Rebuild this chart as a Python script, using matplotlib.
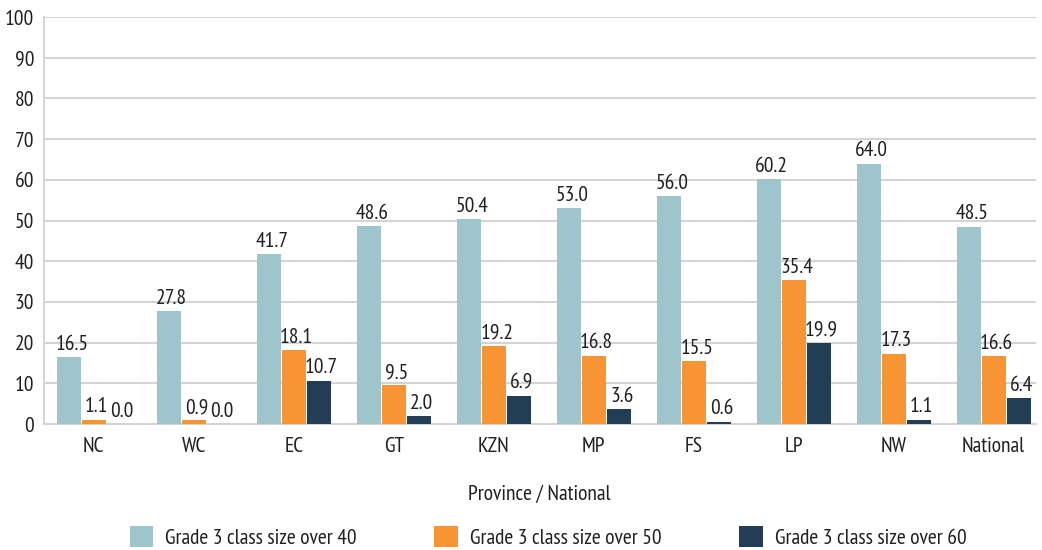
import numpy as np
import matplotlib.pyplot as plt
from matplotlib import font_manager
from matplotlib.patches import Patch

# pick a narrow sans for the labels
installed = {f.name for f in font_manager.fontManager.ttflist}
for fam in ['PT Sans Narrow', 'Fira Sans Condensed', 'Asap Condensed',
            'Archivo Narrow', 'Barlow Semi Condensed']:
    if fam in installed:
        break
else:
    fam = 'DejaVu Sans'
plt.rcParams['font.family'] = [fam, 'DejaVu Sans']

# Provinces and the national figure
regions = ['NC', 'WC', 'EC', 'GT', 'KZN', 'MP', 'FS', 'LP', 'NW', 'National']

# Percent of Grade 3 classes above each size
over_40 = [16.5, 27.8, 41.7, 48.6, 50.4, 53.0, 56.0, 60.2, 64.0, 48.5]
over_50 = [1.1, 0.9, 18.1, 9.5, 19.2, 16.8, 15.5, 35.4, 17.3, 16.6]
over_60 = [0.0, 0.0, 10.7, 2.0, 6.9, 3.6, 0.6, 19.9, 1.1, 6.4]

series_names = ['Grade 3 class size over 40',
                'Grade 3 class size over 50',
                'Grade 3 class size over 60']
colors = ['#9fc5cc', '#f79433', '#233d54']
ink = '#231f20'
fs = 15.5

fig = plt.figure(figsize=(10.42, 5.5), dpi=100)
ax = fig.add_axes([0.042, 0.229, 0.952, 0.74])

x = np.arange(len(regions))
w = 0.24
step = 0.25
for i, (vals, c) in enumerate(zip([over_40, over_50, over_60], colors)):
    pos = x + (i - 1) * step
    ax.bar(pos, vals, width=w, color=c, zorder=3)
    for p, v in zip(pos, vals):
        ax.text(p + 0.03, v + 0.8, f'{v:.1f}', ha='center', va='bottom',
                fontsize=fs, color=ink, zorder=4)

ax.set_ylim(0, 100)
ax.set_xlim(-0.5, len(regions) - 0.58)
ax.set_yticks(range(0, 101, 10))
ax.set_xticks(x)
ax.set_xticklabels(regions)
ax.tick_params(axis='both', length=0, labelsize=fs, colors=ink)
ax.tick_params(axis='x', pad=9)
ax.tick_params(axis='y', pad=7)
ax.grid(axis='y', color='#d4d4d4', linewidth=1.5, zorder=0)

for s in ['top', 'right']:
    ax.spines[s].set_visible(False)
for s in ['left', 'bottom']:
    ax.spines[s].set_color('#d4d4d4')
    ax.spines[s].set_linewidth(1.5)

ax.set_xlabel('Province / National', fontsize=fs, color=ink, labelpad=21)

handles = [Patch(facecolor=c, edgecolor='none') for c in colors]
fig.legend(handles, series_names, loc='center', ncol=3,
           bbox_to_anchor=(0.526, 0.024), frameon=False, fontsize=fs,
           handlelength=1.1, handleheight=1.1, handletextpad=0.55,
           columnspacing=3.6, labelcolor=ink, borderpad=0)

fig.savefig('out.png', dpi=100)
